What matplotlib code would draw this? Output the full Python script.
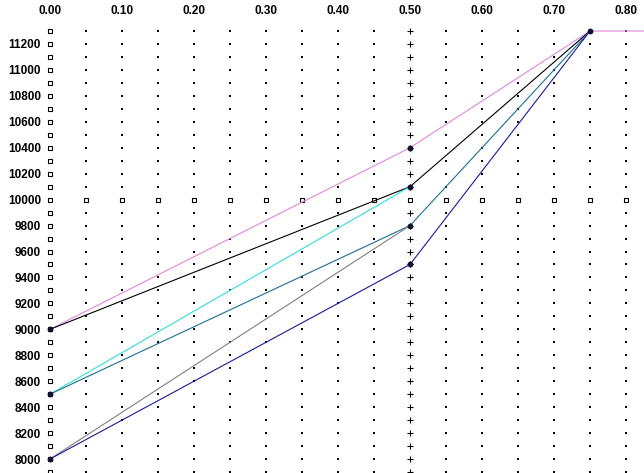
import numpy as np
import matplotlib
matplotlib.use("Agg")
import matplotlib.pyplot as plt

# series: x nodes and y values
violet_x = [0.0, 0.5, 0.75, 0.85]
violet_y = [9000, 10400, 11300, 11300]
black_x = [0.0, 0.5, 0.75]
black_y = [9000, 10100, 11300]
cyan_x = [0.0, 0.5]
cyan_y = [8500, 10100]
teal_x = [0.0, 0.5, 0.75]
teal_y = [8500, 9800, 11300]
gray_x = [0.0, 0.5]
gray_y = [8000, 9800]
navy_x = [0.0, 0.5, 0.75]
navy_y = [8000, 9500, 11300]

# node markers
node_x = [0.0, 0.0, 0.0, 0.5, 0.5, 0.5, 0.5, 0.75]
node_y = [9000, 8500, 8000, 10400, 10100, 9800, 9500, 11300]

x_ticks = [0.0, 0.1, 0.2, 0.3, 0.4, 0.5, 0.6, 0.7, 0.8]
y_ticks = list(range(8000, 11201, 200))

# grid points
grid_x = np.round(np.arange(0, 0.801, 0.05), 2)
grid_y = np.arange(7900, 11301, 100)

W, H = 644, 473
fig = plt.figure(figsize=(W / 100, H / 100), dpi=100)
ax = fig.add_axes([50 / W, 0, 594 / W, 453 / H])
ax.set_xlim(0, 0.825)
ax.set_ylim(7900 - 100 / 13, 11385)

gx, gy = np.meshgrid(grid_x, grid_y)
gx = gx.ravel()
gy = gy.ravel()
sq = (gx == 0) | (gy == 10000)
pl = (gx == 0.5) & ~sq
dot = ~sq & ~pl
ax.plot(gx[dot], gy[dot], ls="none", marker="s", ms=1.6, mew=0, color="black", clip_on=False)
ax.plot(gx[sq], gy[sq], ls="none", marker="s", ms=3.3, mew=0.8, mfc="white", mec="black", clip_on=False)
ax.plot(gx[pl], gy[pl], ls="none", marker="+", ms=4.5, mew=0.8, color="black", clip_on=False)

lw = 0.8
ax.plot(violet_x, violet_y, color="#dd88dd", lw=lw, clip_on=True)
ax.plot(black_x, black_y, color="black", lw=lw)
ax.plot(cyan_x, cyan_y, color="#33dddd", lw=lw)
ax.plot(teal_x, teal_y, color="#1a7090", lw=lw)
ax.plot(gray_x, gray_y, color="#808080", lw=lw)
ax.plot(navy_x, navy_y, color="#1a1a99", lw=lw)
ax.plot(node_x, node_y, ls="none", marker="o", ms=4.2, mew=0, color="#101030", clip_on=False, zorder=5)

for s in ax.spines.values():
    s.set_visible(False)
ax.xaxis.tick_top()
ax.set_xticks(x_ticks)
ax.set_xticklabels(["%.2f" % v for v in x_ticks])
ax.set_yticks(y_ticks)
ax.set_yticklabels([str(v) for v in y_ticks])
ax.tick_params(axis="both", length=0, labelsize=8.5)
ax.tick_params(axis="x", pad=2)
ax.tick_params(axis="y", pad=6.5)
for t in ax.get_xticklabels() + ax.get_yticklabels():
    t.set_fontweight("bold")
    t.set_fontfamily("Liberation Sans")

fig.savefig("out.png", dpi=100)
